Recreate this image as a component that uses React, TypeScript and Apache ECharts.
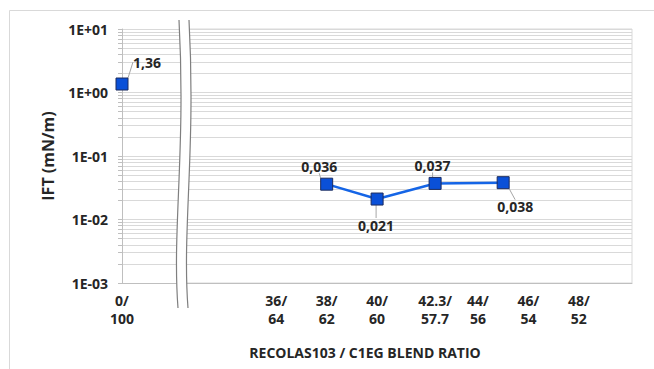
import React, { useEffect, useRef } from 'react';
import * as echarts from 'echarts';

// ---- data ----
const leftX = [0];
const leftValues = [1.36];
const leftLabels = ['1,36'];
const seriesX = [38, 40, 42.3, 45];
const seriesValues = [0.036, 0.021, 0.037, 0.038];
const seriesLabels = ['0,036', '0,021', '0,037', '0,038'];
const xTickValues = [0, 36, 38, 40, 42.3, 44, 46, 48];
const xTickLabels = ['0/\n100', '36/\n64', '38/\n62', '40/\n60', '42.3/\n57.7', '44/\n56', '46/\n54', '48/\n52'];
const yTickValues = [0.001, 0.01, 0.1, 1, 10];
const yTickLabels = ['1E-03', '1E-02', '1E-01', '1E+00', '1E+01'];
const yMinorMultipliers = [1, 2, 3, 4, 5, 6, 7, 8, 9];
const xTitle = 'RECOLAS103 / C1EG BLEND RATIO';
const yTitle = 'IFT (mN/m)';

// ---- styling (label offsets in px) ----
const leftLabelOffsets = [[25, -22]];
const rightLabelOffsets = [[-7.5, -18], [-1, 26], [-2.5, -18], [12, 24]];

const FONT = "'Open Sans', 'Liberation Sans', sans-serif";
const TEXT = '#262626';
const GRID = '#d9d9d9';

const gridValues: number[] = [];
yTickValues.slice(0, -1).forEach((d) => yMinorMultipliers.forEach((m) => gridValues.push(+(d * m).toPrecision(6))));
gridValues.push(yTickValues[yTickValues.length - 1]);

const BREAK_D = 'M179 20 C186 150 172 230 178 308 L188 308 C182 230 196 150 189 20 Z';
let registered = false;
function ensureShape() {
  if (registered) return;
  echarts.graphic.registerShape('breakFill', echarts.graphic.extendPath(BREAK_D, {}) as any);
  registered = true;
}

function findLabel(values: number[], labels: string[], v: number, log = false) {
  for (let i = 0; i < values.length; i++) {
    const a = log ? Math.log10(values[i]) : values[i];
    const b = log ? Math.log10(v) : v;
    if (Math.abs(a - b) < 1e-6) return labels[i];
  }
  return '';
}

export default function App() {
  const ref = useRef<HTMLDivElement>(null);
  useEffect(() => {
    if (!ref.current) return;
    ensureShape();
    const chart = echarts.init(ref.current, undefined, { renderer: 'svg' });
    const yAxisBase = (show: boolean) => ({
      type: 'log' as const,
      logBase: 10,
      min: 0.001,
      max: 10,
      axisLine: { show, lineStyle: { color: '#bfbfbf', width: 1 } },
      axisTick: { show, length: 4, customValues: gridValues, lineStyle: { color: '#bfbfbf' } },
      axisLabel: {
        show,
        customValues: yTickValues,
        margin: 14,
        color: TEXT,
        fontFamily: FONT,
        fontWeight: 'bold',
        fontSize: 14,
        formatter: (v: number) => findLabel(yTickValues, yTickLabels, v, true),
      },
      splitLine: { show: true, lineStyle: { color: GRID, width: 1 } },
      minorTick: { show: false },
      minorSplitLine: { show: false },
    });
    const xAxisBase = (gridIndex: number, min: number, max: number, custom: number[]) => ({
      type: 'value' as const,
      gridIndex,
      min,
      max,
      axisLine: { show: true, onZero: false, lineStyle: { color: '#bfbfbf', width: 1 } },
      axisTick: { show: false },
      splitLine: { show: false },
      axisLabel: {
        customValues: custom,
        margin: 8,
        color: TEXT,
        fontFamily: FONT,
        fontWeight: 'bold',
        fontSize: 14,
        lineHeight: 18,
        align: 'center',
        formatter: (v: number) => findLabel(xTickValues, xTickLabels, v),
      },
    });
    const labelStyle = {
      show: true,
      position: 'inside' as const,
      color: TEXT,
      fontFamily: FONT,
      fontWeight: 'bold' as const,
      fontSize: 14,
    };
    const option: any = {
      animation: false,
      backgroundColor: '#ffffff',
      grid: [
        { left: 122, top: 29, bottom: 86, width: 62 },
        { left: 186, right: 22, top: 29, bottom: 86, show: true, borderColor: GRID, borderWidth: 1 },
      ],
      xAxis: [
        xAxisBase(0, 0, 62 / 25.2, [0]),
        xAxisBase(1, 32.42, 50.11, xTickValues.slice(1)),
      ],
      yAxis: [
        {
          ...yAxisBase(true),
          gridIndex: 0,
          name: yTitle,
          nameLocation: 'middle',
          nameRotate: 90,
          nameGap: 66,
          nameTextStyle: { color: TEXT, fontFamily: FONT, fontWeight: 'bold', fontSize: 16 },
        },
        { ...yAxisBase(false), gridIndex: 1 },
      ],
      series: [
        {
          type: 'line',
          xAxisIndex: 0,
          yAxisIndex: 0,
          data: leftX.map((x, i) => [x, leftValues[i]]),
          symbol: 'rect',
          symbolSize: 12,
          itemStyle: { color: '#0a50d8', borderColor: '#1b2b5e', borderWidth: 1 },
          lineStyle: { width: 0 },
          label: { ...labelStyle, formatter: (p: any) => leftLabels[p.dataIndex] },
          labelLine: { show: true, lineStyle: { color: '#a6a6a6', width: 1 } },
          labelLayout: (p: any) => ({ dx: leftLabelOffsets[p.dataIndex][0], dy: leftLabelOffsets[p.dataIndex][1] }),
          z: 5,
        },
        {
          type: 'line',
          xAxisIndex: 1,
          yAxisIndex: 1,
          data: seriesX.map((x, i) => [x, seriesValues[i]]),
          symbol: 'rect',
          symbolSize: 12,
          itemStyle: { color: '#0a50d8', borderColor: '#1b2b5e', borderWidth: 1 },
          lineStyle: { color: '#1565e6', width: 2.5 },
          label: { ...labelStyle, formatter: (p: any) => seriesLabels[p.dataIndex] },
          labelLine: { show: true, lineStyle: { color: '#a6a6a6', width: 1 } },
          labelLayout: (p: any) => ({ dx: rightLabelOffsets[p.dataIndex][0], dy: rightLabelOffsets[p.dataIndex][1] }),
          z: 5,
        },
      ],
      graphic: [
        {
          type: 'rect',
          silent: true,
          z: 1,
          shape: { x: 9.5, y: 10.5, width: 700, height: 400 },
          style: { fill: 'none', stroke: '#d9d9d9', lineWidth: 1 },
        },
        {
          type: 'breakFill',
          silent: true,
          z: 50,
          x: 0,
          y: 0,
          style: { fill: '#ffffff', stroke: 'none' },
        },
        {
          type: 'bezierCurve',
          silent: true,
          z: 51,
          shape: { x1: 179, y1: 20, cpx1: 186, cpy1: 150, cpx2: 172, cpy2: 230, x2: 178, y2: 308 },
          style: { fill: 'none', stroke: '#7f7f7f', lineWidth: 1.2 },
        },
        {
          type: 'bezierCurve',
          silent: true,
          z: 51,
          shape: { x1: 189, y1: 20, cpx1: 196, cpy1: 150, cpx2: 182, cpy2: 230, x2: 188, y2: 308 },
          style: { fill: 'none', stroke: '#7f7f7f', lineWidth: 1.2 },
        },
        {
          type: 'text',
          silent: true,
          x: 365,
          y: 352,
          style: {
            text: xTitle,
            fill: TEXT,
            fontFamily: FONT,
            fontWeight: 'bold',
            fontSize: 14,
            align: 'center',
            verticalAlign: 'middle',
          },
        },
      ],
    };
    chart.setOption(option);
    return () => chart.dispose();
  }, []);
  return (
    <div
      ref={ref}
      style={{ position: 'fixed', left: 0, top: 0, width: 654, height: 369, background: '#fff' }}
    />
  );
}
